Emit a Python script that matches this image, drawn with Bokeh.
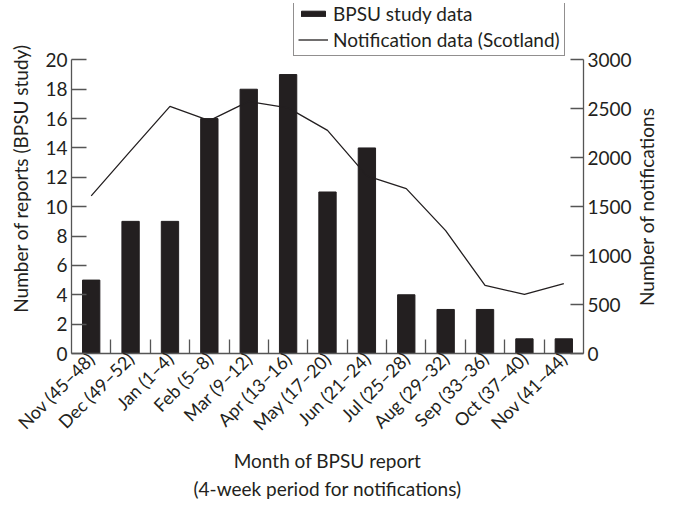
import math
from bokeh.plotting import figure
from bokeh.layouts import row
from bokeh.models import Range1d, LinearAxis, FixedTicker, Legend, LegendItem
from bokeh.core.properties import value
from bokeh.embed import file_html
from bokeh.resources import INLINE

months = ["Nov (45–48)", "Dec (49–52)", "Jan (1–4)", "Feb (5–8)", "Mar (9–12)",
          "Apr (13–16)", "May (17–20)", "Jun (21–24)", "Jul (25–28)", "Aug (29–32)",
          "Sep (33–36)", "Oct (37–40)", "Nov (41–44)"]
reports = [5, 9, 9, 16, 18, 19, 11, 14, 4, 3, 3, 1, 1]
notifications = [1610, 2070, 2525, 2380, 2575, 2510, 2280, 1815, 1685, 1255, 695, 605, 715]
left_ticks = [0, 2, 4, 6, 8, 10, 12, 14, 16, 18, 20]
right_ticks = [0, 500, 1000, 1500, 2000, 2500, 3000]
right_label = "Number of notifications"

FONT = "Lato"
FS = "19px"
AX = "#555555"
BAR = "#231f20"

n = len(months)
xs = list(range(n))
bounds = [i + 0.5 for i in range(n - 1)]

W, H = 634, 502
SIDE_W = 23
TOP = 3          # frame top (above the legend)
BOTTOM = 145     # room below the frame for the x axis
AXIS_TOP = 60    # pixel row of the top of the value axes
axis_px = H - BOTTOM - AXIS_TOP
frame_px = H - BOTTOM - TOP
stretch = frame_px / axis_px

p = figure(width=W, height=H, x_range=Range1d(-0.5, n - 0.5),
           y_range=Range1d(0, left_ticks[-1] * stretch),
           output_backend="svg", toolbar_location=None, x_axis_type=None, y_axis_type=None)
p.min_border_left = 71
p.min_border_right = W - 586
p.min_border_top = TOP
p.min_border_bottom = BOTTOM
p.outline_line_color = None
p.extra_y_ranges = {"n": Range1d(0, right_ticks[-1] * stretch)}

bars = p.vbar(x=xs, top=reports, width=0.44, fill_color=BAR, line_color=BAR)
line = p.line(x=xs, y=notifications, y_range_name="n", line_color=BAR, line_width=1.3)

def style(ax):
    ax.axis_line_color = AX
    ax.axis_line_width = 1.3
    ax.major_tick_line_color = AX
    ax.major_tick_line_width = 1.3
    ax.minor_tick_line_color = AX
    ax.minor_tick_line_width = 1.3
    ax.major_label_text_font = FONT
    ax.major_label_text_font_size = FS
    ax.major_label_text_color = "#231f20"
    ax.axis_label_text_font = FONT
    ax.axis_label_text_font_size = FS
    ax.axis_label_text_font_style = "normal"
    ax.axis_label_text_color = "#231f20"

xa = LinearAxis(ticker=FixedTicker(ticks=xs, minor_ticks=bounds),
                major_label_overrides={i: m for i, m in zip(xs, months)},
                axis_label="Month of BPSU report\n(4-week period for notifications)")
style(xa)
xa.major_label_text_font_size = "18px"
xa.major_tick_in = 0
xa.major_tick_out = 0
xa.minor_tick_in = 14
xa.minor_tick_out = 0
xa.major_label_orientation = math.pi / 4
xa.major_label_standoff = 2
xa.axis_label_standoff = 4
xa.axis_label_text_line_height = 1.2
p.add_layout(xa, "below")

yl = LinearAxis(ticker=FixedTicker(ticks=left_ticks, minor_ticks=[]),
                axis_label="Number of reports (BPSU study)",
                bounds=(left_ticks[0], left_ticks[-1]))
style(yl)
yl.major_tick_in = 15
yl.major_tick_out = 0
yl.major_label_standoff = 4
yl.axis_label_standoff = 10
p.add_layout(yl, "left")

yr = LinearAxis(y_range_name="n", ticker=FixedTicker(ticks=right_ticks, minor_ticks=[]),
                bounds=(right_ticks[0], right_ticks[-1]))
style(yr)
yr.major_tick_in = 13
yr.major_tick_out = 0
yr.major_label_standoff = 4
p.add_layout(yr, "right")

legend = Legend(items=[LegendItem(label="BPSU study data", renderers=[bars]),
                       LegendItem(label="Notification data (Scotland)", renderers=[line])],
                location=(222, axis_px), orientation="vertical")
legend.label_text_font = FONT
legend.label_text_font_size = FS
legend.label_text_color = "#231f20"
legend.border_line_color = "#231f20"
legend.border_line_width = 1
legend.background_fill_alpha = 1
legend.glyph_width = 30
legend.glyph_height = 7
legend.label_height = 20
legend.label_standoff = 5
legend.spacing = 3
legend.padding = 4
legend.margin = 0
p.add_layout(legend, "center")

# narrow strip on the right carrying the rotated right-axis title (reads bottom to top);
# inside a row its frame is aligned with the main frame, so use screen-like y coordinates
side = figure(width=SIDE_W, height=H, x_range=Range1d(0, 1), y_range=Range1d(H - BOTTOM, TOP),
              output_backend="svg", toolbar_location=None, x_axis_type=None, y_axis_type=None)
side.min_border_left = side.min_border_right = side.min_border_top = side.min_border_bottom = 0
side.outline_line_color = None
side.grid.visible = False
side.text(x=[0.5], y=[(AXIS_TOP + H - BOTTOM) / 2], text=[right_label], angle=math.pi / 2,
          text_align="center", text_baseline="middle", text_font=value(FONT),
          text_font_size=FS, text_color="#231f20")

layout = row(p, side)
layout.spacing = 0

open("out.html", "w").write(file_html(layout, INLINE))
